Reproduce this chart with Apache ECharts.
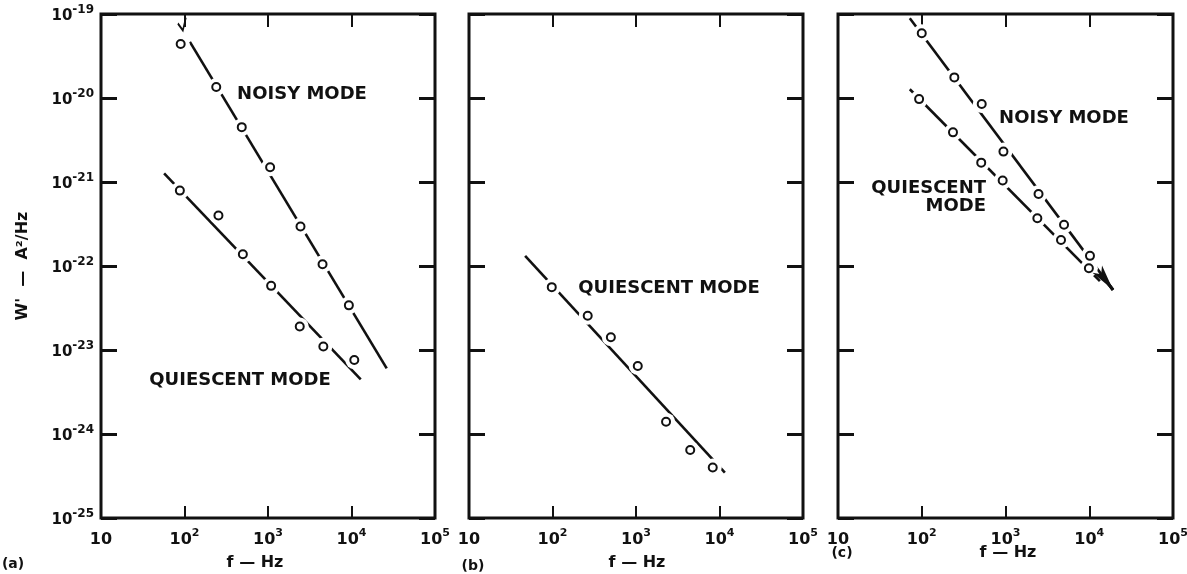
<!DOCTYPE html>
<html>
<head>
<meta charset="utf-8">
<script src="https://cdn.jsdelivr.net/npm/echarts@6/dist/echarts.min.js"></script>
<style>
  html, body { margin: 0; padding: 0; background: #fff; }
  #chart { width: 1187px; height: 574px; }
</style>
</head>
<body>
<div id="chart"></div>
<script>
// Current-noise spectral density W' (A²/Hz) against frequency f (Hz), in three panels.

// W' values are plotted as multiples of the axis floor (10^-25 A²/Hz)
const W_FLOOR = 1e-25;
const W_FLOOR_EXP = -25;

// (a) noisy and quiescent mode
const fNoisyA = [90, 240, 485, 1060, 2450, 4500, 9300];
const wNoisyA = [4.4e-20, 1.35e-20, 4.5e-21, 1.5e-21, 2.95e-22, 1.05e-22, 3.4e-23];
const fQuietA = [88, 255, 500, 1090, 2400, 4600, 10800];
const wQuietA = [7.9e-22, 4.0e-22, 1.38e-22, 5.8e-23, 1.9e-23, 1.1e-23, 7.6e-24];
const fitNoisyA = [[116, 4.65e-20], [26400, 6.05e-24]];
const fitQuietA = [[57, 1.27e-21], [12900, 4.48e-24]];

// (b) quiescent mode
const fQuietB = [98, 264, 500, 1050, 2290, 4460, 8300];
const wQuietB = [5.6e-23, 2.56e-23, 1.42e-23, 6.45e-24, 1.4e-24, 6.45e-25, 4.0e-25];
const fitQuietB = [[47, 1.32e-22], [11600, 3.47e-25]];

// (c) noisy and quiescent mode
const fNoisyC = [100, 245, 520, 945, 2480, 5000, 10200];
const wNoisyC = [5.9e-20, 1.76e-20, 8.5e-21, 2.3e-21, 7.2e-22, 3.1e-22, 1.32e-22];
const fQuietC = [93, 236, 513, 925, 2400, 4600, 9900];
const wQuietC = [9.7e-21, 3.9e-21, 1.7e-21, 1.04e-21, 3.7e-22, 2.04e-22, 9.4e-23];
const fitNoisyC = [[72, 8.9e-20], [19200, 5.2e-23]];
const fitQuietC = [[72, 1.27e-20], [13400, 6.6e-23]];
const arrowC = [[14100, 7.8e-23], [19200, 5.2e-23]];

// axis extents
const F_MIN = 10, F_MAX = 1e5;
const W_MIN = 1e-25, W_MAX = 1e-19;

const FONT = '"DejaVu Sans", sans-serif';
const INK = '#111';

const chart = echarts.init(document.getElementById('chart'), null, { renderer: 'canvas' });

const toPlot = (f, w) => [f, w / W_FLOOR];
const pts = (fs, ws) => fs.map((f, k) => toPlot(f, ws[k]));
const seg = line => line.map(([f, w]) => toPlot(f, w));

const xRich = {
  b: { fontFamily: FONT, fontWeight: 'bold', fontSize: 16, color: INK, lineHeight: 20, verticalAlign: 'bottom' },
  s: { fontFamily: FONT, fontWeight: 'bold', fontSize: 11, color: INK, lineHeight: 11, verticalAlign: 'top' }
};
const yRich = {
  b: { fontFamily: FONT, fontWeight: 'bold', fontSize: 15, color: INK, lineHeight: 20, verticalAlign: 'bottom' },
  s: { fontFamily: FONT, fontWeight: 'bold', fontSize: 12, color: INK, lineHeight: 12, verticalAlign: 'top' }
};
function xLabel(v) {
  const e = Math.round(Math.log10(v));
  return e === 1 ? '{b|10}' : '{b|10}{s|' + e + '}';
}
function yLabel(v) {
  const e = Math.round(Math.log10(v)) + W_FLOOR_EXP;
  return '{b|10}{s|' + e + '}';
}

const panels = [
  { left: 101, width: 334, yLabels: true },
  { left: 469, width: 334, yLabels: false },
  { left: 838, width: 335, yLabels: false }
];

const grid = panels.map(p => ({
  left: p.left, top: 14, width: p.width, height: 504,
  outerBoundsMode: 'none', containLabel: false,
  show: true, borderColor: INK, borderWidth: 3, backgroundColor: 'transparent'
}));

const xAxis = [];
const yAxis = [];
panels.forEach((p, i) => {
  ['bottom', 'top'].forEach(pos => xAxis.push({
    type: 'log', logBase: 10, gridIndex: i, position: pos,
    min: F_MIN, max: F_MAX, splitNumber: 4,
    axisLine: { show: false }, splitLine: { show: false },
    axisTick: { inside: true, length: pos === 'top' ? 13 : 12, lineStyle: { color: INK, width: 2 } },
    axisLabel: pos === 'top' ? { show: false } : { margin: 10, formatter: xLabel, rich: xRich }
  }));
  ['left', 'right'].forEach(pos => yAxis.push({
    type: 'log', logBase: 10, gridIndex: i, position: pos,
    min: W_MIN / W_FLOOR, max: W_MAX / W_FLOOR, splitNumber: 6,
    axisLine: { show: false }, splitLine: { show: false },
    axisTick: { inside: true, length: 16, lineStyle: { color: INK, width: 3 } },
    axisLabel: (pos === 'left' && p.yLabels) ? { margin: 7, formatter: yLabel, rich: yRich } : { show: false }
  }));
});

function fitLine(i, line) {
  return {
    type: 'line', xAxisIndex: i * 2, yAxisIndex: i * 2, data: seg(line),
    symbol: 'none', showSymbol: false, silent: true, z: 2, animation: false,
    lineStyle: { color: INK, width: 2.6 }
  };
}
function points(i, fs, ws) {
  const d = pts(fs, ws);
  return [
    { // white clearance round each reading, breaking the fitted line
      type: 'scatter', xAxisIndex: i * 2, yAxisIndex: i * 2, data: d,
      symbol: 'circle', symbolSize: 18, itemStyle: { color: '#fff', opacity: 1 },
      silent: true, z: 3, animation: false
    },
    {
      type: 'scatter', xAxisIndex: i * 2, yAxisIndex: i * 2, data: d,
      symbol: 'circle', symbolSize: 8, silent: true, z: 4, animation: false,
      itemStyle: { color: '#fff', borderColor: INK, borderWidth: 2, opacity: 1 }
    }
  ];
}

const series = [
  fitLine(0, fitNoisyA),
  fitLine(0, fitQuietA),
  ...points(0, fNoisyA, wNoisyA),
  ...points(0, fQuietA, wQuietA),
  { // tick mark at the top end of the noisy-mode line
    type: 'scatter', xAxisIndex: 0, yAxisIndex: 0, data: [seg(fitNoisyA)[0]],
    symbol: 'path://M0,6 L5,13 L8,0', symbolSize: [8, 13], symbolOffset: [-8, -18],
    itemStyle: { color: 'transparent', borderColor: INK, borderWidth: 2, opacity: 1 },
    silent: true, z: 5, animation: false
  },
  fitLine(1, fitQuietB),
  ...points(1, fQuietB, wQuietB),
  fitLine(2, fitNoisyC),
  fitLine(2, fitQuietC),
  ...points(2, fNoisyC, wNoisyC),
  ...points(2, fQuietC, wQuietC),
  { // arrowhead where the two lines of (c) run together
    type: 'line', xAxisIndex: 4, yAxisIndex: 4, data: seg(arrowC),
    symbol: 'none', showSymbol: false, silent: true, z: 5, animation: false,
    lineStyle: { color: INK, width: 3 },
    markLine: {
      silent: true, animation: false, symbol: ['none', 'arrow'], symbolSize: [9, 26],
      label: { show: false }, lineStyle: { color: INK, width: 3, type: 'solid' },
      data: [[{ coord: seg(arrowC)[0] }, { coord: seg(arrowC)[1] }]]
    }
  }
];

function txt(text, x, y, opts) {
  const o = opts || {};
  return {
    type: 'text', x: x, y: y, rotation: o.rotation || 0, silent: true,
    style: {
      text: text, fill: INK, align: o.align || 'center', verticalAlign: 'middle',
      font: 'bold ' + (o.size || 18) + 'px ' + FONT, lineHeight: o.lineHeight
    }
  };
}

const graphic = [
  txt('NOISY MODE', 302, 94),
  txt('QUIESCENT MODE', 240, 380),
  txt('QUIESCENT MODE', 669, 288),
  txt('NOISY MODE', 1064, 118),
  txt('QUIESCENT\nMODE', 986, 197, { align: 'right', lineHeight: 18 }),
  txt("W'  —  A²/Hz", 23, 266, { size: 16, rotation: Math.PI / 2 }),
  txt('f — Hz', 255, 563, { size: 16 }),
  txt('f — Hz', 637, 563, { size: 16 }),
  txt('f — Hz', 1008, 553, { size: 16 }),
  txt('(a)', 13, 564, { size: 14 }),
  txt('(b)', 473, 566, { size: 14 }),
  txt('(c)', 842, 553, { size: 14 })
];

chart.setOption({
  animation: false,
  backgroundColor: '#fff',
  grid: grid,
  xAxis: xAxis,
  yAxis: yAxis,
  series: series,
  graphic: graphic
});
</script>
</body>
</html>
